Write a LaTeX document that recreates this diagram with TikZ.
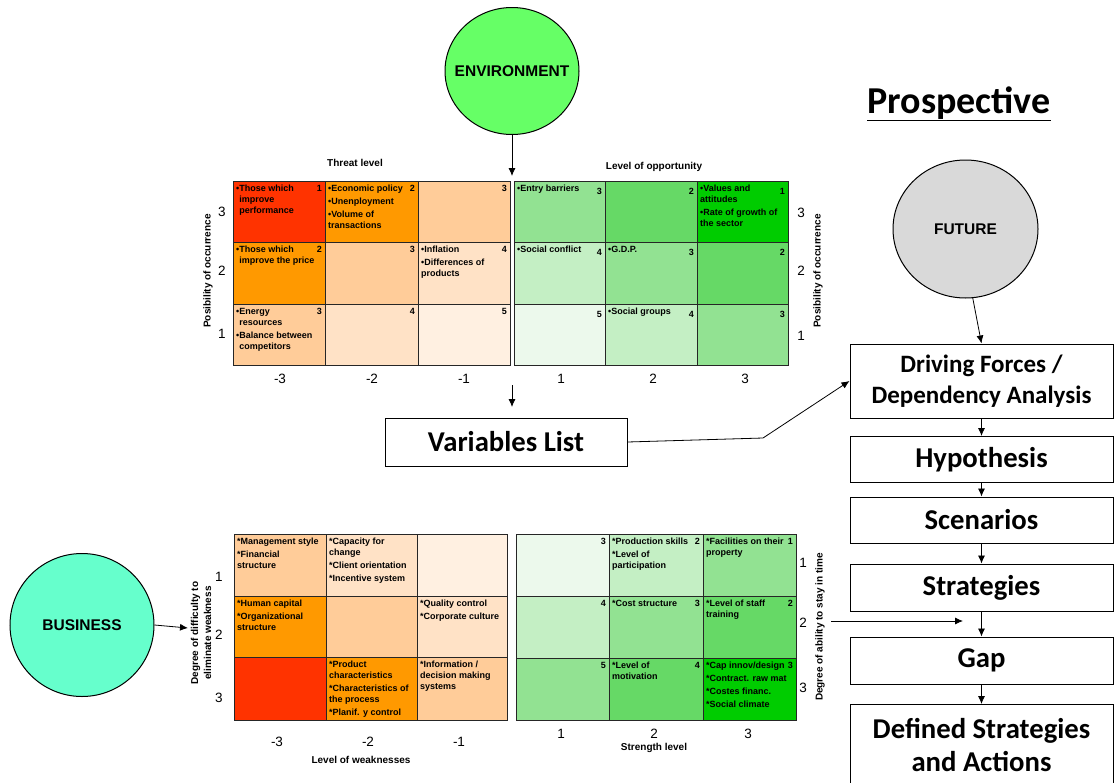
\documentclass[tikz,border=0pt]{standalone}
\usepackage{fontspec}
\setmainfont{Liberation Sans}
\newfontfamily\calib{Carlito}
\usetikzlibrary{arrows.meta,shapes.geometric}

% threat / weakness scale (1 = strongest)
\definecolor{rA}{HTML}{FF3300}
\definecolor{rB}{HTML}{FF9900}
\definecolor{rC}{HTML}{FFCC99}
\definecolor{rD}{HTML}{FFE2C6}
\definecolor{rE}{HTML}{FFF0E1}
% opportunity / strength scale
\definecolor{gA}{HTML}{00CC00}
\definecolor{gB}{HTML}{66D966}
\definecolor{gC}{HTML}{92E292}
\definecolor{gD}{HTML}{C4EFC4}
\definecolor{gE}{HTML}{ECF9EC}
\definecolor{envfill}{HTML}{66FF66}
\definecolor{busfill}{HTML}{66FFCC}
\definecolor{futfill}{HTML}{D9D9D9}

% one matrix cell: name, x, y (top left), width, height, colour
\newcommand\gcell[6]{\node[cellbox, fill=#6, minimum width=#4pt, minimum height=#5pt] (#1) at (#2,#3) {};}
% text block in the top left corner of a cell
\newcommand\gtext[2]{\node[celltext] (#1t) at ([xshift=3pt,yshift=-4pt]#1.north west) {#2};}
% score in the top right corner of a cell
\newcommand\gnum[3][-4pt]{\node[cellnum] (#2n) at ([xshift=-3pt,yshift=#1]#2.north east) {#3};}
\newcommand\hb{\hphantom{•}}

\begin{document}
\begin{tikzpicture}[x=1pt,y=-1pt,
  cellbox/.style={draw=black!85, line width=0.9pt, anchor=north west, inner sep=0pt, outer sep=0pt},
  celltext/.style={anchor=north west, inner sep=0pt, align=left, font=\bfseries\fontsize{9}{11}\selectfont},
  cellnum/.style={anchor=north east, inner sep=0pt, font=\bfseries\fontsize{9}{11}\selectfont},
  axisnum/.style={inner sep=0pt, font=\fontsize{13.5}{15}\selectfont},
  axislab/.style={inner sep=0pt, align=center, font=\bfseries\fontsize{10}{13}\selectfont},
  bubble/.style={ellipse, draw=black, line width=1pt, inner sep=0pt, font=\bfseries\fontsize{15.5}{18}\selectfont},
  stepbox/.style={draw=black, line width=1pt, minimum width=263pt, inner sep=0pt, align=center, font=\calib\bfseries\fontsize{28.7}{33}\selectfont},
  conn/.style={-{Latex[length=8pt,width=7pt]}, line width=0.8pt},
]
\useasboundingbox (0,0) rectangle (1114,782);
\clip (0,0) rectangle (1114,782);

% ---------- environment: threats ----------
\gcell{TLa3}{233}{181}{92}{61}{rA} \gtext{TLa3}{•Those which\\\hb improve\\\hb performance} \gnum{TLa3}{1}
\gcell{TLb3}{325}{181}{93}{61}{rB} \gtext{TLb3}{•Economic policy\\[2pt]•Unenployment\\[2pt]•Volume of\\transactions} \gnum{TLb3}{2}
\gcell{TLc3}{418}{181}{92}{61}{rC} \gnum{TLc3}{3}
\gcell{TLa2}{233}{242}{92}{62}{rB} \gtext{TLa2}{•Those which\\\hb improve the price} \gnum{TLa2}{2}
\gcell{TLb2}{325}{242}{93}{62}{rC} \gnum{TLb2}{3}
\gcell{TLc2}{418}{242}{92}{62}{rD} \gtext{TLc2}{•Inflation\\[2pt]•Differences of\\products} \gnum{TLc2}{4}
\gcell{TLa1}{233}{304}{92}{61}{rC} \gtext{TLa1}{•Energy\\\hb resources\\[2pt]•Balance between\\\hb competitors} \gnum{TLa1}{3}
\gcell{TLb1}{325}{304}{93}{61}{rD} \gnum{TLb1}{4}
\gcell{TLc1}{418}{304}{92}{61}{rE} \gnum{TLc1}{5}

\node[axislab] (threat) at (355,163) {Threat level};
\node[axislab, rotate=90] (tlpos) at (208,271) {Posibility of occurrence};
\node[axisnum] (tly3) at (222,212) {3};
\node[axisnum] (tly2) at (222,271) {2};
\node[axisnum] (tly1) at (222,334) {1};
\node[axisnum] (tlx3) at (280,379) {-3};
\node[axisnum] (tlx2) at (372,379) {-2};
\node[axisnum] (tlx1) at (464,379) {-1};

% ---------- environment: opportunities ----------
\gcell{TRa3}{514}{181}{91}{61}{gC} \gtext{TRa3}{•Entry barriers} \gnum[-7pt]{TRa3}{3}
\gcell{TRb3}{605}{181}{92}{61}{gB} \gnum[-7pt]{TRb3}{2}
\gcell{TRc3}{697}{181}{91}{61}{gA} \gtext{TRc3}{•Values and\\attitudes\\[2pt]•Rate of growth of\\the sector} \gnum[-7pt]{TRc3}{1}
\gcell{TRa2}{514}{242}{91}{62}{gD} \gtext{TRa2}{•Social conflict} \gnum[-7pt]{TRa2}{4}
\gcell{TRb2}{605}{242}{92}{62}{gC} \gtext{TRb2}{•G.D.P.} \gnum[-7pt]{TRb2}{3}
\gcell{TRc2}{697}{242}{91}{62}{gB} \gnum[-7pt]{TRc2}{2}
\gcell{TRa1}{514}{304}{91}{61}{gE} \gnum[-7pt]{TRa1}{5}
\gcell{TRb1}{605}{304}{92}{61}{gD} \gtext{TRb1}{•Social groups} \gnum[-7pt]{TRb1}{4}
\gcell{TRc1}{697}{304}{91}{61}{gC} \gnum[-7pt]{TRc1}{3}

\node[axislab] (oppo) at (654,167) {Level of opportunity};
\node[axislab, rotate=90] (trpos) at (818,271) {Posibility of occurrence};
\node[axisnum] (try3) at (801,213) {3};
\node[axisnum] (try2) at (801,271) {2};
\node[axisnum] (try1) at (801,336) {1};
\node[axisnum] (trx1) at (561,379) {1};
\node[axisnum] (trx2) at (653,379) {2};
\node[axisnum] (trx3) at (745,379) {3};

% ---------- business: weaknesses ----------
\gcell{BLa1}{234}{534}{92}{62}{rC} \gtext{BLa1}{*Management style\\[2pt]*Financial\\structure}
\gcell{BLb1}{326}{534}{91}{62}{rD} \gtext{BLb1}{*Capacity for\\change\\[2pt]*Client orientation\\[2pt]*Incentive system}
\gcell{BLc1}{417}{534}{90}{62}{rE}
\gcell{BLa2}{234}{596}{92}{61}{rB} \gtext{BLa2}{*Human capital\\[2pt]*Organizational\\structure}
\gcell{BLb2}{326}{596}{91}{61}{rC}
\gcell{BLc2}{417}{596}{90}{61}{rD} \gtext{BLc2}{*Quality control\\[2pt]*Corporate culture}
\gcell{BLa3}{234}{657}{92}{63}{rA}
\gcell{BLb3}{326}{657}{91}{63}{rB} \gtext{BLb3}{*Product\\characteristics\\[2pt]*Characteristics of\\the process\\[2pt]*Planif. y control}
\gcell{BLc3}{417}{657}{90}{63}{rC} \gtext{BLc3}{*Information /\\decision making\\systems}

\node[axislab, rotate=90] (blpos) at (201,633) {Degree of difficulty to\\eliminate weakness};
\node[axisnum] (bly1) at (219,577) {1};
\node[axisnum] (bly2) at (219,635) {2};
\node[axisnum] (bly3) at (219,698) {3};
\node[axisnum] (blx3) at (277,742) {-3};
\node[axisnum] (blx2) at (368,742) {-2};
\node[axisnum] (blx1) at (459,742) {-1};
\node[axislab] (weak) at (361,760) {Level of weaknesses};

% ---------- business: strengths ----------
\gcell{BRa1}{516}{534}{93}{62}{gE} \gnum{BRa1}{3}
\gcell{BRb1}{609}{534}{94}{62}{gD} \gtext{BRb1}{*Production skills\\[2pt]*Level of\\participation} \gnum{BRb1}{2}
\gcell{BRc1}{703}{534}{93}{62}{gC} \gtext{BRc1}{*Facilities on their\\property} \gnum{BRc1}{1}
\gcell{BRa2}{516}{596}{93}{62}{gD} \gnum{BRa2}{4}
\gcell{BRb2}{609}{596}{94}{62}{gC} \gtext{BRb2}{*Cost structure} \gnum{BRb2}{3}
\gcell{BRc2}{703}{596}{93}{62}{gB} \gtext{BRc2}{*Level of staff\\training} \gnum{BRc2}{2}
\gcell{BRa3}{516}{658}{93}{62}{gC} \gnum{BRa3}{5}
\gcell{BRb3}{609}{658}{94}{62}{gB} \gtext{BRb3}{*Level of\\motivation} \gnum{BRb3}{4}
\gcell{BRc3}{703}{658}{93}{62}{gA} \gtext{BRc3}{*Cap innov/design\\[2pt]*Contract. raw mat\\[2pt]*Costes financ.\\[2pt]*Social climate} \gnum{BRc3}{3}

\node[axislab, rotate=90] (brpos) at (820,627) {Degree of ability to stay in time};
\node[axisnum] (bry1) at (803,563) {1};
\node[axisnum] (bry2) at (803,623) {2};
\node[axisnum] (bry3) at (803,688) {3};
\node[axisnum] (brx1) at (561,734) {1};
\node[axisnum] (brx2) at (654,734) {2};
\node[axisnum] (brx3) at (748,734) {3};
\node[axislab] (strength) at (654,748) {Strength level};

% ---------- sources ----------
\node[bubble, fill=envfill, minimum width=134pt, minimum height=127pt] (env) at (512,71) {\makebox[0pt]{ENVIRONMENT}};
\node[bubble, fill=busfill, minimum width=144pt, minimum height=143pt] (bus) at (82,625) {\makebox[0pt]{BUSINESS}};
\node[bubble, fill=futfill, minimum width=145pt, minimum height=138pt] (fut) at (965.5,229) {\makebox[0pt]{FUTURE}};

\node[anchor=base, inner sep=0pt, font=\calib\bfseries\fontsize{38}{40}\selectfont] (prosp) at (959,113) {\underline{Prospective}};

% ---------- process chain ----------
\node[stepbox, minimum width=242pt, minimum height=48pt] (vars) at (506,442) {Variables List};
\node[stepbox, minimum height=74pt, font=\calib\bfseries\fontsize{25}{31}\selectfont] (drive) at (981.5,381) {Driving Forces /\\Dependency Analysis};
\node[stepbox, minimum height=46pt] (hyp) at (981.5,459.5) {Hypothesis};
\node[stepbox, minimum height=46pt] (scen) at (981.5,520) {Scenarios};
\node[stepbox, minimum height=47pt] (strat) at (981.5,587.5) {Strategies};
\node[stepbox, minimum height=47pt] (gap) at (981.5,660.5) {Gap};
\node[stepbox, minimum height=82pt, anchor=north] (defs) at (981.5,704) {Defined Strategies\\and Actions};

% ---------- connectors ----------
\coordinate (envtip) at (512,176);
\coordinate (gridout) at (512,385);
\coordinate (varin) at (512,407);
\coordinate (bend) at (763,438);
\coordinate (busin) at (188,628);
\coordinate (strout) at (831,621);
\coordinate (strin) at (963,621);

\draw[conn] (env.south) -- (envtip);
\draw[conn] (gridout) -- (varin);
\draw[conn] (vars.east) -- (bend) -- (drive.west);
\draw[conn] (bus.east) -- (busin);
\draw[conn] (fut.-84) -- (drive.north);
\draw[conn] (strout) -- (strin);
\draw[conn] (drive) -- (hyp);
\draw[conn] (hyp) -- (scen);
\draw[conn] (scen) -- (strat);
\draw[conn] (strat) -- (gap);
\draw[conn] (gap) -- (defs);
\end{tikzpicture}
\end{document}
